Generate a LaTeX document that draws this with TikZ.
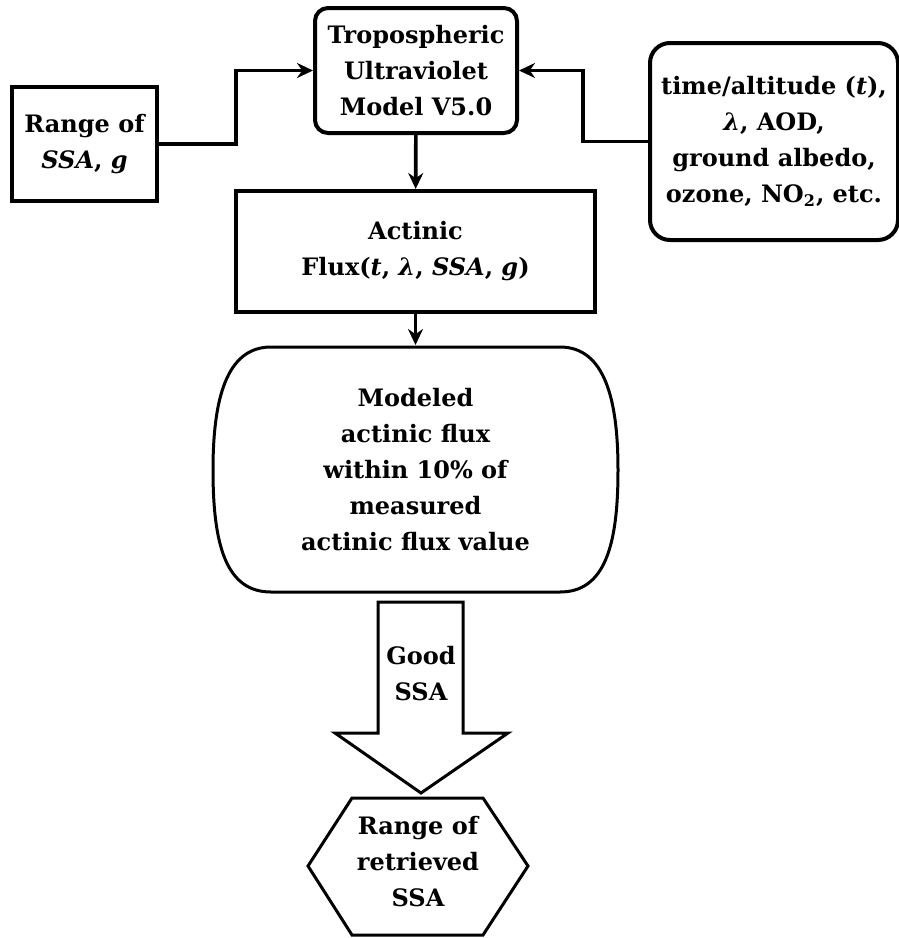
\documentclass[tikz,border=0pt]{standalone}
\usepackage{fontspec}
\setmainfont{DejaVu Serif}
\usetikzlibrary{arrows.meta}

\begin{document}
\begin{tikzpicture}[x=0.5pt, y=-0.5pt, line width=2pt,
  every node/.style={font=\bfseries\fontsize{12}{18}\selectfont, align=center, inner sep=0pt},
  box/.style={draw, minimum width=#1},
  flow/.style={-{Stealth[length=8pt,width=7.5pt]}, line width=1.8pt}]
  \useasboundingbox (0,0) rectangle (899,938);
  % input boxes
  \node[box=72.5pt, minimum height=57pt] (range) at (84.5,144) {Range of\\\textit{SSA}, \textit{g}};
  \node[box=101pt, minimum height=62.5pt, rounded corners=6.5pt] (tuv) at (416,70.5) {Tropospheric\\Ultraviolet\\Model V5.0};
  \node[box=124pt, minimum height=98.5pt, rounded corners=10pt] (inputs) at (774,141.5) {time/altitude (\textit{t}),\\\textit{λ}, AOD,\\ground albedo,\\ozone, NO\textsubscript{2}, etc.};
  \node[box=179.5pt, minimum height=60.5pt] (flux) at (415.5,251.5) {Actinic\\Flux(\textit{t}, \textit{λ}, \textit{SSA}, \textit{g})};
  \node[minimum width=202pt, minimum height=122.5pt] (modeled) at (415.5,469.5) {Modeled\\actinic flux\\within 10\% of\\measured\\actinic flux value};
  \draw[line width=1.5pt] (271,347) -- (560,347) .. controls (605,347) and (618,400) .. (618,470)
    .. controls (618,545) and (605,592) .. (560,592) -- (271,592)
    .. controls (226,592) and (213,545) .. (213,470) .. controls (213,400) and (226,347) .. (271,347) -- cycle;
  % result
  \draw[line width=1.5pt] (378,602) -- (463,602) -- (463,733) -- (508,733) -- (421,793) -- (335,733) -- (378,733) -- cycle;
  \node (good) at (421,674) {Good\\SSA};
  \draw[line width=1.5pt] (308,866) -- (352,798) -- (483,798) -- (528,866) -- (483,935) -- (352,935) -- cycle;
  \node (retr) at (418,862) {Range of\\retrieved\\SSA};
  % connectors
  \coordinate (elbowL) at (236,0);
  \coordinate (elbowR) at (583,0);
  \draw[flow] (range.east) -- (range.east -| elbowL) |- (tuv.west);
  \draw[flow] (inputs.west) -- (inputs.west -| elbowR) |- (tuv.east);
  \draw[flow] (tuv) -- (flux);
  \draw[flow] (flux) -- (modeled);
\end{tikzpicture}
\end{document}
